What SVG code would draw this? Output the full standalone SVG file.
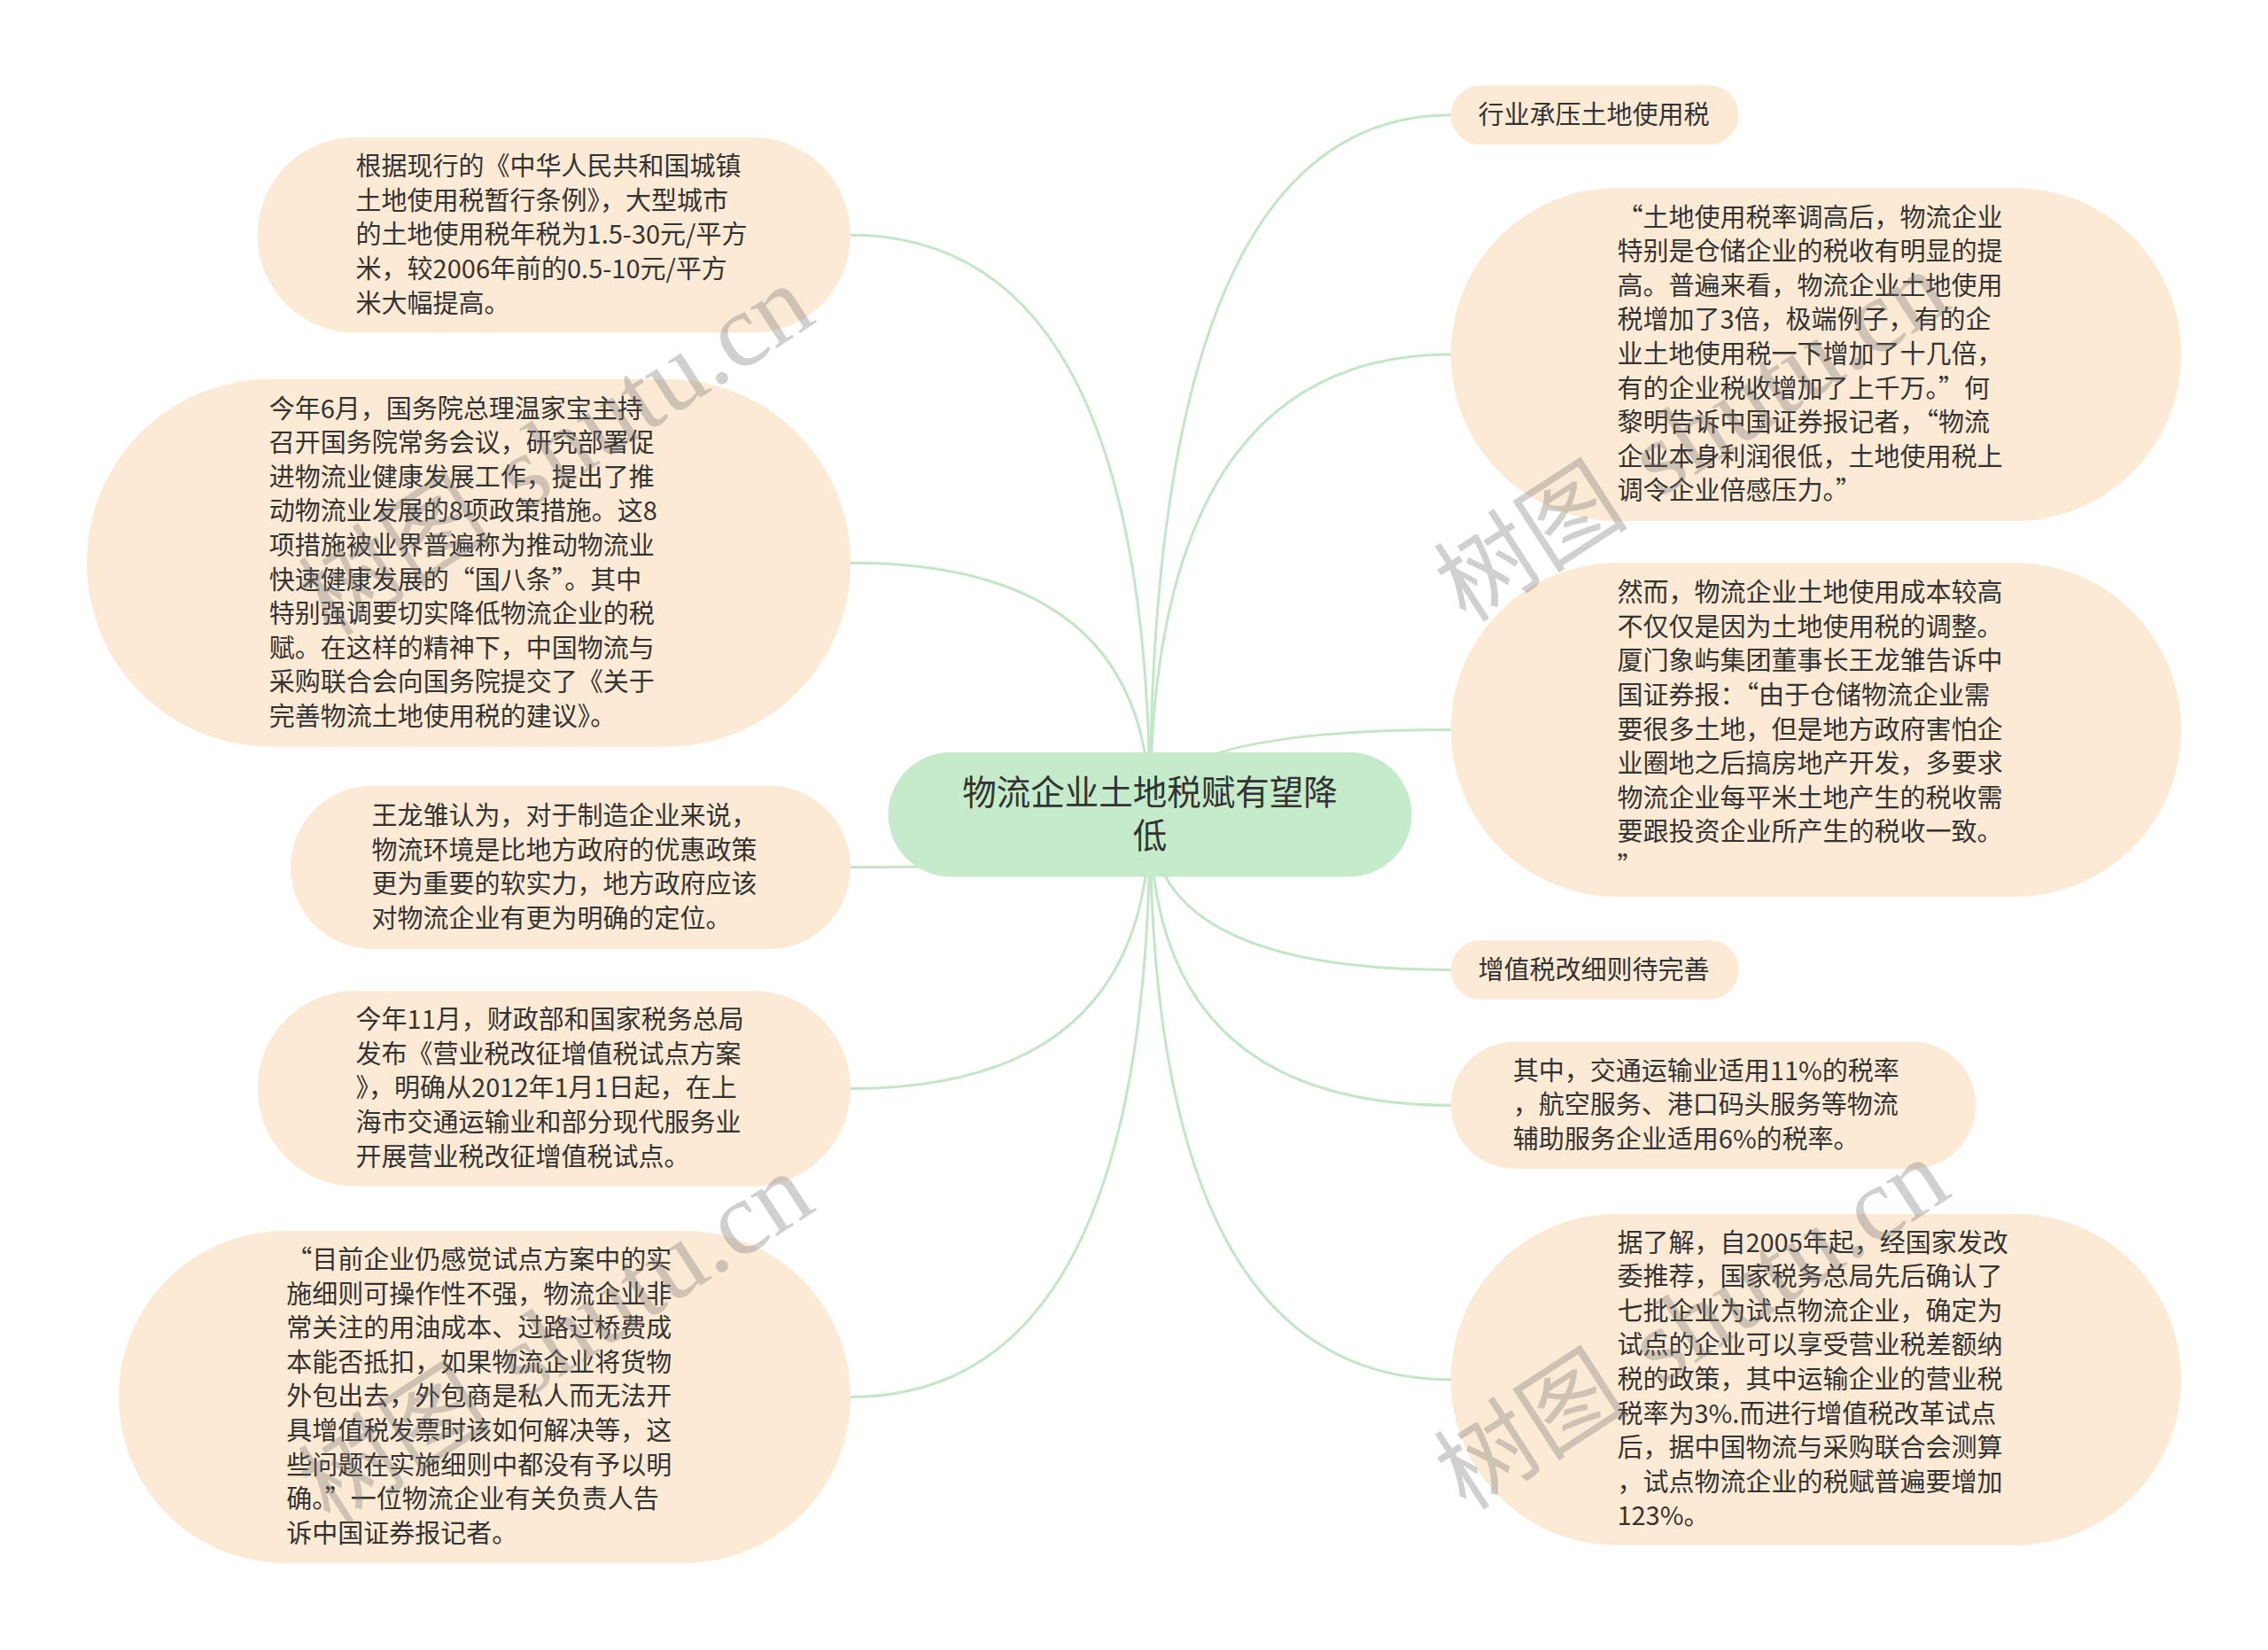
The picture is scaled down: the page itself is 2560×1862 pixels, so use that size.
<svg xmlns="http://www.w3.org/2000/svg" width="2560" height="1862" viewBox="0 0 2560 1862">
<style>
.bg{fill:#ffffff}
.conn path{fill:none;stroke:#c3e6c6;stroke-width:3}
.node rect{fill:#fdead5}
.root rect{fill:#c6ebca}
text{font-family:"Noto Sans CJK SC","Noto Sans",sans-serif;font-size:29px;fill:#333333}
.root text{font-size:38.5px;text-anchor:middle}
.wm text{font-family:"Liberation Serif","Noto Sans CJK SC",serif;font-size:110px;fill:#707070;fill-opacity:0.33}
.wm tspan{font-size:118px}
</style>
<rect class="bg" x="0" y="0" width="2560" height="1862"/>
<g id="connectors" class="conn">
<path d="M1298,919 Q1298,265.3 960,265.3"/>
<path d="M1298,919 Q1298,635.2 960,635.2"/>
<path d="M1298,919 Q1298,978.8 960,978.8"/>
<path d="M1298,919 Q1298,1228.4 960,1228.4"/>
<path d="M1298,919 Q1298,1576.4 960,1576.4"/>
<path d="M1298,919 Q1298,129.8 1638,129.8"/>
<path d="M1298,919 Q1298,400 1638,400"/>
<path d="M1298,919 Q1298,823.5 1638,823.5"/>
<path d="M1298,919 Q1298,1094.5 1638,1094.5"/>
<path d="M1298,919 Q1298,1247.3 1638,1247.3"/>
<path d="M1298,919 Q1298,1556.9 1638,1556.9"/>
</g>
<g id="root" class="root">
<rect x="1002.5" y="849" width="591" height="140.4" rx="70.2"/>
<text x="1298" y="908">物流企业土地税赋有望降</text>
<text x="1298" y="957">低</text>
</g>
<g id="n-l1" class="node">
<rect x="290.6" y="155" width="669.4" height="220.6" rx="110.3"/>
<text x="401.6" y="198.1">根据现行的《中华人民共和国城镇<tspan x="401.6" dy="38.6">土地使用税暂行条例》，大型城市</tspan><tspan x="401.6" dy="38.6">的土地使用税年税为1.5-30元/平方</tspan><tspan x="401.6" dy="38.6">米，较2006年前的0.5-10元/平方</tspan><tspan x="401.6" dy="38.6">米大幅提高。</tspan></text>
</g>
<g id="n-l2" class="node">
<rect x="98" y="427.8" width="862" height="414.7" rx="207"/>
<text x="303.7" y="471.5">今年6月，国务院总理温家宝主持<tspan x="303.7" dy="38.6">召开国务院常务会议，研究部署促</tspan><tspan x="303.7" dy="38.6">进物流业健康发展工作，提出了推</tspan><tspan x="303.7" dy="38.6">动物流业发展的8项政策措施。这8</tspan><tspan x="303.7" dy="38.6">项措施被业界普遍称为推动物流业</tspan><tspan x="303.7" dy="38.6">快速健康发展的“国八条”。其中</tspan><tspan x="303.7" dy="38.6">特别强调要切实降低物流企业的税</tspan><tspan x="303.7" dy="38.6">赋。在这样的精神下，中国物流与</tspan><tspan x="303.7" dy="38.6">采购联合会向国务院提交了《关于</tspan><tspan x="303.7" dy="38.6">完善物流土地使用税的建议》。</tspan></text>
</g>
<g id="n-l3" class="node">
<rect x="328" y="886.6" width="632" height="184.4" rx="92.2"/>
<text x="419.6" y="930.9">王龙雏认为，对于制造企业来说，<tspan x="419.6" dy="38.6">物流环境是比地方政府的优惠政策</tspan><tspan x="419.6" dy="38.6">更为重要的软实力，地方政府应该</tspan><tspan x="419.6" dy="38.6">对物流企业有更为明确的定位。</tspan></text>
</g>
<g id="n-l4" class="node">
<rect x="290.6" y="1118" width="669.4" height="220.8" rx="110.4"/>
<text x="401.6" y="1161.2">今年11月，财政部和国家税务总局<tspan x="401.6" dy="38.6">发布《营业税改征增值税试点方案</tspan><tspan x="401.6" dy="38.6">》，明确从2012年1月1日起，在上</tspan><tspan x="401.6" dy="38.6">海市交通运输业和部分现代服务业</tspan><tspan x="401.6" dy="38.6">开展营业税改征增值税试点。</tspan></text>
</g>
<g id="n-l5" class="node">
<rect x="134" y="1389" width="826" height="374.8" rx="187.4"/>
<text x="323.3" y="1432">“目前企业仍感觉试点方案中的实<tspan x="323.3" dy="38.6">施细则可操作性不强，物流企业非</tspan><tspan x="323.3" dy="38.6">常关注的用油成本、过路过桥费成</tspan><tspan x="323.3" dy="38.6">本能否抵扣，如果物流企业将货物</tspan><tspan x="323.3" dy="38.6">外包出去，外包商是私人而无法开</tspan><tspan x="323.3" dy="38.6">具增值税发票时该如何解决等，这</tspan><tspan x="323.3" dy="38.6">些问题在实施细则中都没有予以明</tspan><tspan x="323.3" dy="38.6">确。”一位物流企业有关负责人告</tspan><tspan x="323.3" dy="38.6">诉中国证券报记者。</tspan></text>
</g>
<g id="n-r1" class="node">
<rect x="1637.6" y="96.3" width="325" height="67" rx="33.5"/>
<text x="1668.6" y="139.8">行业承压土地使用税</text>
</g>
<g id="n-r2" class="node">
<rect x="1637.6" y="212" width="824.4" height="376" rx="188"/>
<text x="1825.4" y="255.6">“土地使用税率调高后，物流企业<tspan x="1825.4" dy="38.6">特别是仓储企业的税收有明显的提</tspan><tspan x="1825.4" dy="38.6">高。普遍来看，物流企业土地使用</tspan><tspan x="1825.4" dy="38.6">税增加了3倍，极端例子，有的企</tspan><tspan x="1825.4" dy="38.6">业土地使用税一下增加了十几倍，</tspan><tspan x="1825.4" dy="38.6">有的企业税收增加了上千万。”何</tspan><tspan x="1825.4" dy="38.6">黎明告诉中国证券报记者，“物流</tspan><tspan x="1825.4" dy="38.6">企业本身利润很低，土地使用税上</tspan><tspan x="1825.4" dy="38.6">调令企业倍感压力。”</tspan></text>
</g>
<g id="n-r3" class="node">
<rect x="1637.6" y="635" width="824.4" height="377" rx="188.5"/>
<text x="1825.4" y="679.1">然而，物流企业土地使用成本较高<tspan x="1825.4" dy="38.6">不仅仅是因为土地使用税的调整。</tspan><tspan x="1825.4" dy="38.6">厦门象屿集团董事长王龙雏告诉中</tspan><tspan x="1825.4" dy="38.6">国证券报：“由于仓储物流企业需</tspan><tspan x="1825.4" dy="38.6">要很多土地，但是地方政府害怕企</tspan><tspan x="1825.4" dy="38.6">业圈地之后搞房地产开发，多要求</tspan><tspan x="1825.4" dy="38.6">物流企业每平米土地产生的税收需</tspan><tspan x="1825.4" dy="38.6">要跟投资企业所产生的税收一致。</tspan><tspan x="1825.4" dy="38.6">”</tspan></text>
</g>
<g id="n-r4" class="node">
<rect x="1637.6" y="1061" width="325" height="67" rx="33.5"/>
<text x="1668.6" y="1104.5">增值税改细则待完善</text>
</g>
<g id="n-r5" class="node">
<rect x="1637.6" y="1175.5" width="592.4" height="143.5" rx="71.7"/>
<text x="1707.8" y="1218.7">其中，交通运输业适用11%的税率<tspan x="1707.8" dy="38.6">，航空服务、港口码头服务等物流</tspan><tspan x="1707.8" dy="38.6">辅助服务企业适用6%的税率。</tspan></text>
</g>
<g id="n-r6" class="node">
<rect x="1637.6" y="1370" width="824.4" height="373.7" rx="186.8"/>
<text x="1825.4" y="1412.5">据了解，自2005年起，经国家发改<tspan x="1825.4" dy="38.6">委推荐，国家税务总局先后确认了</tspan><tspan x="1825.4" dy="38.6">七批企业为试点物流企业，确定为</tspan><tspan x="1825.4" dy="38.6">试点的企业可以享受营业税差额纳</tspan><tspan x="1825.4" dy="38.6">税的政策，其中运输企业的营业税</tspan><tspan x="1825.4" dy="38.6">税率为3%.而进行增值税改革试点</tspan><tspan x="1825.4" dy="38.6">后，据中国物流与采购联合会测算</tspan><tspan x="1825.4" dy="38.6">，试点物流企业的税赋普遍要增加</tspan><tspan x="1825.4" dy="38.6">123%。</tspan></text>
</g>
<g id="watermarks" class="wm">
<text transform="translate(373,720) rotate(-33)">树图<tspan dx="40">shutu.cn</tspan></text>
<text transform="translate(373,1722) rotate(-33)">树图<tspan dx="40">shutu.cn</tspan></text>
<text transform="translate(1655,704) rotate(-33)">树图<tspan dx="40">shutu.cn</tspan></text>
<text transform="translate(1655,1706) rotate(-33)">树图<tspan dx="40">shutu.cn</tspan></text>
</g>
</svg>
